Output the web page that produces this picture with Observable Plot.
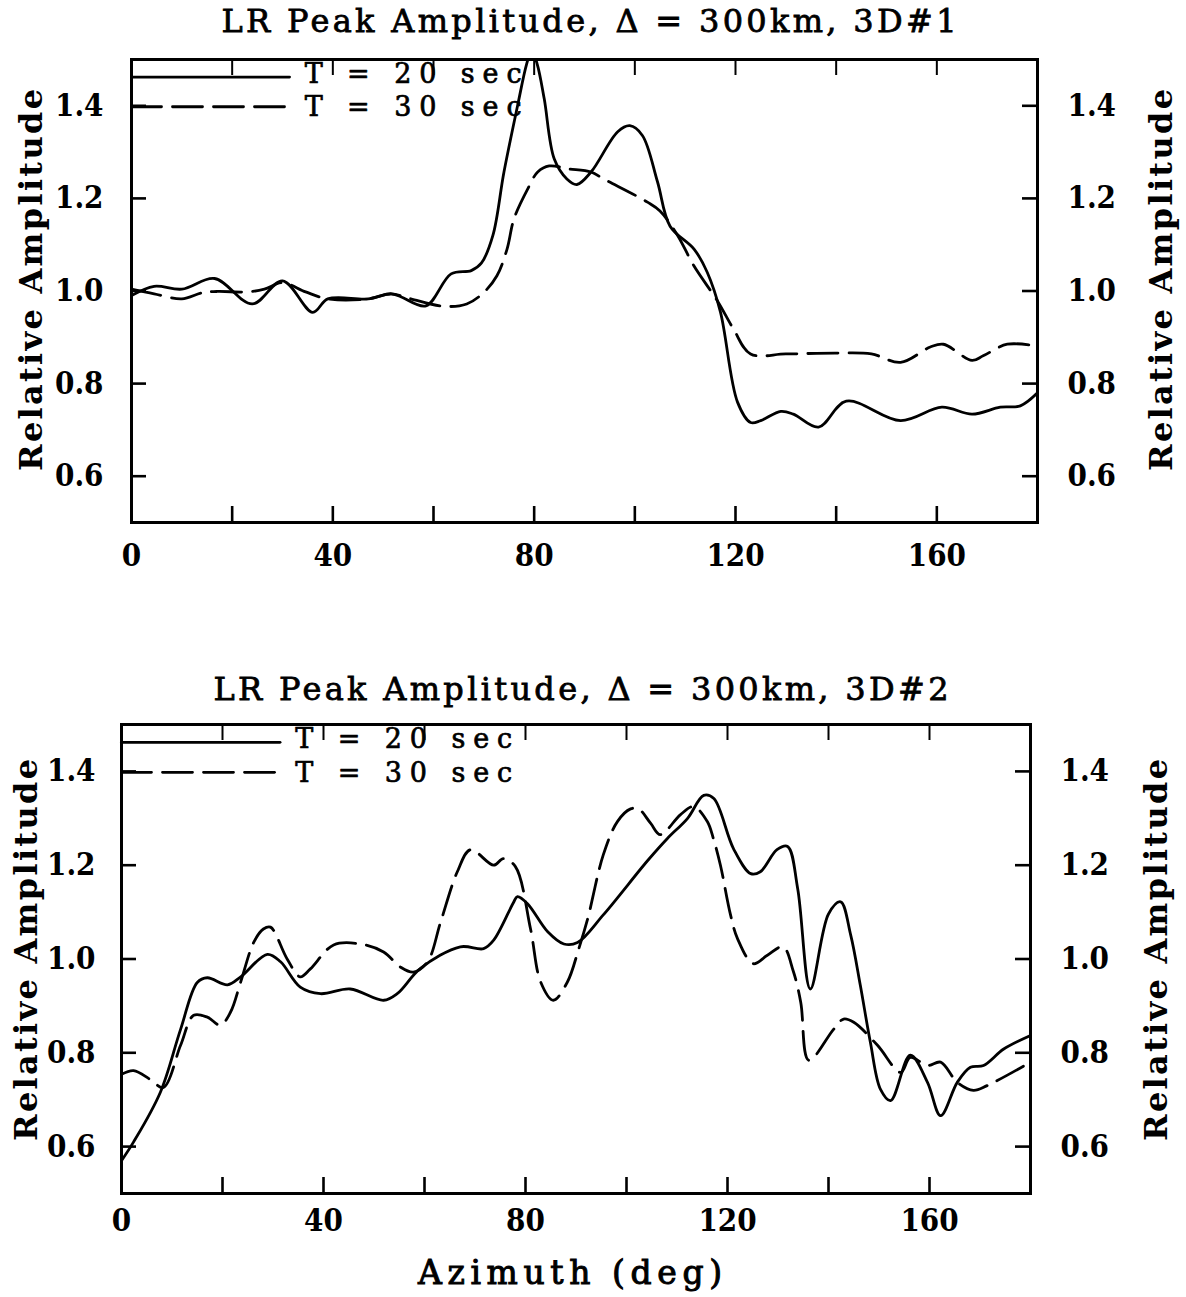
<!DOCTYPE html>
<html><head><meta charset="utf-8">
<script src="https://cdn.jsdelivr.net/npm/d3@7"></script>
<script src="https://cdn.jsdelivr.net/npm/@observablehq/plot@0.6"></script>
<style>
body{margin:0;background:#fff;width:1186px;height:1297px;overflow:hidden;position:relative}
#c1{position:absolute;left:0;top:0}
#c2{position:absolute;left:0;top:600px}
svg{overflow:visible}
</style></head><body><div id="c1"></div><div id="c2"></div>
<script>
// ---------- data ----------
const yTicks = [0.6, 0.8, 1.0, 1.2, 1.4];
const xTicks = [20, 40, 60, 80, 100, 120, 140, 160];
const xLabelTicks = [0, 40, 80, 120, 160];
const legendLabels = ["T = 20 sec", "T = 30 sec"];
const legendY = [1.462, 1.398];
const legendTextY = [1.468, 1.396];
const legendLineX = [0, 31.4];
const legendTextX = 34.4;
const titles = ["LR Peak Amplitude, \u0394 = 300km, 3D#1", "LR Peak Amplitude, \u0394 = 300km, 3D#2"];
const yLabel = "Relative Amplitude";
const xLabel = "Azimuth (deg)";

// Chart 1 (3D#1)
const top20Az  = [0, 4.5, 10, 16.5, 24, 30, 36, 39, 47, 51.6, 53.6, 58.5, 63.5, 67.5, 69.5, 71.8, 74, 76.7, 78.5, 79.5, 80.6, 82, 84, 86.5, 88.5, 91.3, 96.6, 99, 101.5, 104.5, 107, 111.8, 114.4, 117, 120.4, 123, 125, 129, 131.5, 136.5, 142, 152.8, 161, 167, 172.6, 176.6, 180];
const top20Amp = [0.99, 1.01, 1.004, 1.027, 0.972, 1.022, 0.954, 0.983, 0.983, 0.994, 0.987, 0.968, 1.037, 1.044, 1.06, 1.12, 1.257, 1.40, 1.49, 1.52, 1.49, 1.415, 1.285, 1.242, 1.23, 1.257, 1.344, 1.357, 1.336, 1.236, 1.14, 1.09, 1.04, 0.955, 0.76, 0.716, 0.72, 0.74, 0.734, 0.706, 0.762, 0.72, 0.749, 0.734, 0.749, 0.752, 0.78];
const top30Az  = [0, 4.5, 10, 14, 17, 23, 26.4, 30, 34.6, 39, 47, 51.6, 55.5, 62, 66.6, 70, 72.6, 74.6, 76, 78.7, 80.7, 83, 86.7, 91.3, 93.8, 102.5, 105, 108.5, 111.7, 116.5, 119.6, 123, 130, 140, 147, 152.8, 158.7, 161.3, 167, 169.2, 174, 180];
const top30Amp = [1.004, 0.994, 0.983, 0.996, 0.999, 0.998, 1.004, 1.018, 0.998, 0.983, 0.983, 0.994, 0.983, 0.967, 0.972, 0.997, 1.033, 1.09, 1.156, 1.22, 1.257, 1.27, 1.264, 1.257, 1.242, 1.192, 1.173, 1.12, 1.055, 0.977, 0.918, 0.864, 0.864, 0.866, 0.864, 0.846, 0.879, 0.885, 0.85, 0.86, 0.885, 0.881];

// Chart 2 (3D#2)
const bot20Az  = [0, 2.4, 7.7, 11.7, 15, 17, 21, 23.6, 28.9, 31.5, 35.4, 39.4, 45.3, 51.9, 54.6, 59.2, 67.1, 71.7, 73.7, 77.6, 78.4, 80.4, 84.4, 87.6, 90.3, 95.4, 104.2, 108.1, 112.1, 115.3, 117.3, 121.2, 124.6, 126.5, 129.8, 131.9, 133.9, 136.4, 140, 142.4, 144.4, 146.3, 148.3, 150.3, 152.3, 156.2, 159.6, 162.2, 165.5, 168.1, 170.7, 174.7, 180];
const bot20Amp = [0.57, 0.61, 0.716, 0.85, 0.95, 0.96, 0.945, 0.962, 1.01, 0.994, 0.94, 0.926, 0.936, 0.912, 0.926, 0.98, 1.026, 1.022, 1.04, 1.12, 1.133, 1.118, 1.058, 1.032, 1.035, 1.094, 1.21, 1.257, 1.30, 1.349, 1.342, 1.235, 1.182, 1.186, 1.233, 1.24, 1.15, 0.936, 1.096, 1.122, 1.051, 0.944, 0.822, 0.722, 0.698, 0.795, 0.737, 0.666, 0.737, 0.769, 0.773, 0.808, 0.837];
const bot30Az  = [0, 2.4, 5.7, 8.3, 11.7, 14.3, 17, 19.6, 21.6, 23.6, 26.2, 28.1, 29.5, 32.8, 35.4, 37.4, 42, 47.3, 51.9, 55.2, 57.8, 60.6, 63.2, 66.5, 69.1, 73.7, 75.6, 78, 81, 83, 85.5, 88.3, 90.5, 92.3, 95.4, 98.2, 100.8, 102.4, 104.8, 106.7, 110.7, 113.3, 116, 117.2, 118.6, 120.6, 122, 125.1, 127.9, 131, 133, 134.5, 136.1, 141, 143, 145, 149.7, 154.3, 156.2, 159.6, 162.2, 165.5, 168.7, 171.4, 180];
const bot30Amp = [0.754, 0.762, 0.743, 0.726, 0.816, 0.88, 0.876, 0.859, 0.887, 0.951, 1.036, 1.064, 1.068, 1.0, 0.962, 0.979, 1.03, 1.032, 1.015, 0.983, 0.972, 0.994, 1.079, 1.186, 1.233, 1.20, 1.214, 1.197, 1.064, 0.951, 0.912, 0.951, 1.02, 1.085, 1.222, 1.293, 1.32, 1.32, 1.289, 1.265, 1.308, 1.325, 1.293, 1.257, 1.20, 1.094, 1.043, 0.99, 1.008, 1.026, 0.975, 0.908, 0.784, 0.85, 0.872, 0.865, 0.816, 0.758, 0.79, 0.773, 0.78, 0.737, 0.72, 0.73, 0.78];

// ---------- drawing ----------
const SERIF = "'DejaVu Serif Condensed','DejaVu Serif',serif";
const SERIF_W = "'DejaVu Serif',serif";

function chart(cfg) {
  const W = 1186;
  const fw = W - cfg.ml - cfg.mr, fh = cfg.h - cfg.mt - cfg.mb;
  const s20 = cfg.x20.map((x, i) => ({x, y: cfg.y20[i]}));
  const s30 = cfg.x30.map((x, i) => ({x, y: cfg.y30[i]}));
  const legSolid = legendLineX.map(x => ({x, y: legendY[0]}));
  const legDash = legendLineX.map(x => ({x, y: legendY[1]}));
  const legText = legendLabels.map((t, i) => ({x: legendTextX, y: legendTextY[i], t}));
  const p = Plot.plot({
    width: W, height: cfg.h,
    marginLeft: cfg.ml, marginRight: cfg.mr, marginTop: cfg.mt, marginBottom: cfg.mb,
    x: {domain: [0, 180]},
    y: {domain: [0.5, 1.5]},
    style: {fontFamily: SERIF, fontSize: "31px", fontWeight: "bold", color: "#000", background: "transparent"},
    marks: [
      Plot.tickY(yTicks, {y: d => d, insetRight: fw - 15, strokeWidth: 2.6}),
      Plot.tickY(yTicks, {y: d => d, insetLeft: fw - 15, strokeWidth: 2.6}),
      Plot.tickX(xTicks, {x: d => d, insetTop: fh - 16, strokeWidth: 2.6}),
      Plot.tickX(xTicks, {x: d => d, insetBottom: fh - 16, strokeWidth: 2}),
      Plot.axisY(yTicks, {anchor: "left", tickSize: 0, tickPadding: cfg.padL, tickFormat: d => d.toFixed(1), label: null}),
      Plot.axisY(yTicks, {anchor: "right", tickSize: 0, tickPadding: cfg.padR, tickFormat: d => d.toFixed(1), label: null}),
      Plot.axisX(xLabelTicks, {anchor: "bottom", tickSize: 0, tickPadding: cfg.padB, tickFormat: d => String(d), label: null}),
      Plot.line(s20, {x: "x", y: "y", stroke: "#000", strokeWidth: 2.8, curve: "catmull-rom", clip: true}),
      Plot.line(s30, {x: "x", y: "y", stroke: "#000", strokeWidth: 2.8, strokeDasharray: "30,11", curve: "catmull-rom", clip: true}),
      Plot.line(legSolid, {x: "x", y: "y", stroke: "#000", strokeWidth: 2.8}),
      Plot.line(legDash, {x: "x", y: "y", stroke: "#000", strokeWidth: 2.8, strokeDasharray: "30,11"}),
      Plot.text(legText, {x: "x", y: "y", text: "t", textAnchor: "start", fontSize: 27, fontWeight: "normal", fontFamily: SERIF_W, stroke: "#000", strokeWidth: 0.7, fill: "#000"}),
      Plot.frame({stroke: "#000", strokeWidth: 3})
    ]
  });
  const svg = d3.select(p);
  svg.selectAll("text").filter(function () { return /^T = /.test(this.textContent); })
    .attr("textLength", 217).attr("lengthAdjust", "spacing");
  const add = (txt, x, y, len, rot, weight, size, stroke) => {
    const t = svg.append("text").text(txt)
      .attr("text-anchor", "middle")
      .attr("font-family", SERIF_W)
      .attr("font-size", size)
      .attr("font-weight", weight)
      .attr("fill", "#000")
      .attr("stroke", stroke ? "#000" : "none")
      .attr("stroke-width", stroke || 0)
      .attr("textLength", len).attr("lengthAdjust", "spacing");
    if (rot) t.attr("transform", `translate(${x},${y}) rotate(-90)`).attr("dy", "0.36em");
    else t.attr("x", x).attr("y", y);
  };
  add(cfg.title, cfg.titleX, cfg.titleY, 735, false, "normal", 32, 0.8);
  add(yLabel, cfg.ylx, cfg.yly, 382, true, "bold", 32, 0);
  add(yLabel, cfg.yrx, cfg.yly, 382, true, "bold", 32, 0);
  if (cfg.xlab) add(xLabel, cfg.xlx, cfg.xly, 304, false, "normal", 33, 1);
  return p;
}

document.getElementById("c1").append(chart({
  x20: top20Az, y20: top20Amp, x30: top30Az, y30: top30Amp,
  h: 600, ml: 131, mr: 149, mt: 59, mb: 78,
  padL: 28, padR: 30, padB: 21,
  title: titles[0], titleX: 589, titleY: 32,
  ylx: 30, yrx: 1160, yly: 280
}));
document.getElementById("c2").append(chart({
  x20: bot20Az, y20: bot20Amp, x30: bot30Az, y30: bot30Amp,
  h: 697, ml: 121, mr: 156, mt: 124, mb: 104,
  padL: 26, padR: 30, padB: 15,
  title: titles[1], titleX: 581, titleY: 100,
  ylx: 25, yrx: 1155, yly: 350,
  xlab: true, xlx: 570, xly: 684
}));
</script></body></html>
